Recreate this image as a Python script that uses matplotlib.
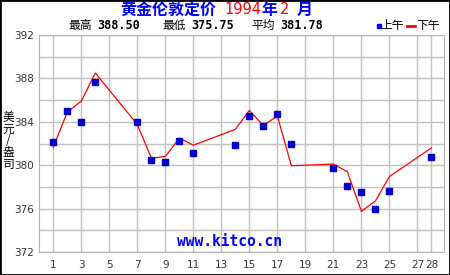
import matplotlib
matplotlib.use("Agg")
import matplotlib.pyplot as plt
import numpy as np

# Feb 1994 London gold fix (trading days)
am_days = [1, 2, 3, 4, 7, 8, 9, 10, 11, 14, 15, 16, 17, 18, 21, 22, 23, 24, 25, 28]
am_price = [382.10, 385.00, 384.00, 387.65, 384.00, 380.50, 380.25, 382.25, 381.10, 381.85,
            384.50, 383.60, 384.70, 382.00, 379.70, 378.05, 377.50, 376.00, 377.60, 380.75]
pm_days = [1, 2, 3, 4, 7, 8, 9, 10, 11, 14, 15, 16, 17, 18, 21, 22, 23, 24, 25, 28]
pm_price = [381.65, 384.90, 385.90, 388.50, 383.75, 380.65, 380.80, 382.50, 381.85, 383.30,
            385.05, 383.65, 384.55, 379.95, 380.10, 379.40, 375.75, 376.70, 378.95, 381.60]
x_ticks = [1, 3, 5, 7, 9, 11, 13, 15, 17, 19, 21, 23, 25, 27, 28]
y_ticks = [372, 376, 380, 384, 388, 392]
stats = [("最高", "388.50"), ("最低", "375.75"), ("平均", "381.78")]

cjk = ['Noto Sans CJK SC', 'DejaVu Sans']
mono = ['DejaVu Sans Mono']
W, H = 450, 275

fig = plt.figure(figsize=(4.5, 2.75), dpi=100)
fig.patch.set_facecolor('white')
ax = fig.add_axes([39.3/W, 23/H, (444-39.3)/W, (252-35)/H])

ax.plot(pm_days, pm_price, color='#ff0000', lw=0.9, zorder=3)
ax.plot(am_days, am_price, ls='none', marker='s', ms=4.2, color='#0000c8', zorder=4)

ax.set_xlim(0, 28.9)
ax.set_ylim(372, 392)
ax.set_xticks(x_ticks)
ax.set_yticks(y_ticks)
ax.set_yticks(np.arange(372, 393, 2), minor=True)
ax.grid(True, which='both', color='#c0c0c0', lw=1)
ax.set_axisbelow(True)
ax.tick_params(which='both', length=0, labelsize=7.5, colors='#333333')
ax.tick_params(axis='y', pad=4)
ax.tick_params(axis='x', pad=6)
for s in ax.spines.values():
    s.set_color('#b0b0b0')

# title, in coloured pieces
y_t = 1 - 10/H
for xp, txt, col, wt in [(120, "黄金伦敦定价", '#0000ff', 'bold'), (224, "1994", '#ff0000', 'normal'),
                         (261, "年", '#0000ff', 'bold'), (280, "2", '#ff0000', 'normal'),
                         (297, "月", '#0000ff', 'bold')]:
    fam = cjk if wt == 'bold' else ['DejaVu Sans']
    fig.text(xp/W, y_t, txt, color=col, fontsize=11.5 if wt == 'bold' else 10.5, fontweight=wt,
             family=fam, va='center', ha='left')

# stats line
y_sub = 1 - 25.5/H
for xp, (lab, val) in zip([68, 162, 251], stats):
    fig.text(xp/W, y_sub, lab, fontsize=8.5, family=cjk, va='center', ha='left')
    fig.text((xp + 29)/W, y_sub, val, fontsize=8.5, fontweight='bold', family=mono,
             va='center', ha='left')

# legend in header
fig.lines.append(plt.Line2D([378.5/W], [y_sub], marker='s', ms=3.4, color='#0000ff', ls='none',
                            transform=fig.transFigure, figure=fig))
fig.text(380.5/W, y_sub, "上午", fontsize=8.5, family=cjk, va='center', ha='left')
fig.lines.append(plt.Line2D([407/W, 415/W], [y_sub, y_sub], color='#ff0000', lw=2,
                            transform=fig.transFigure, figure=fig))
fig.text(416.5/W, y_sub, "下午", fontsize=8.5, family=cjk, va='center', ha='left')

# y axis label, one character under the other
for i, ch in enumerate("美元/盎司"):
    fig.text(8.5/W, 1 - (117.5 + 11.7*i)/H, ch, fontsize=8.5, family=cjk,
             va='center', ha='center')

# watermark
ax.text(0.47, 0.05, "www.kitco.cn", transform=ax.transAxes, color='#0000ff', fontsize=10.5,
        fontweight='bold', family=mono, ha='center', va='center')

# outer frame
fig.patches.append(plt.Rectangle((0, 0), 1, 1, transform=fig.transFigure, fill=False,
                                 edgecolor='black', lw=2, figure=fig))

fig.savefig('out.png', dpi=100)
